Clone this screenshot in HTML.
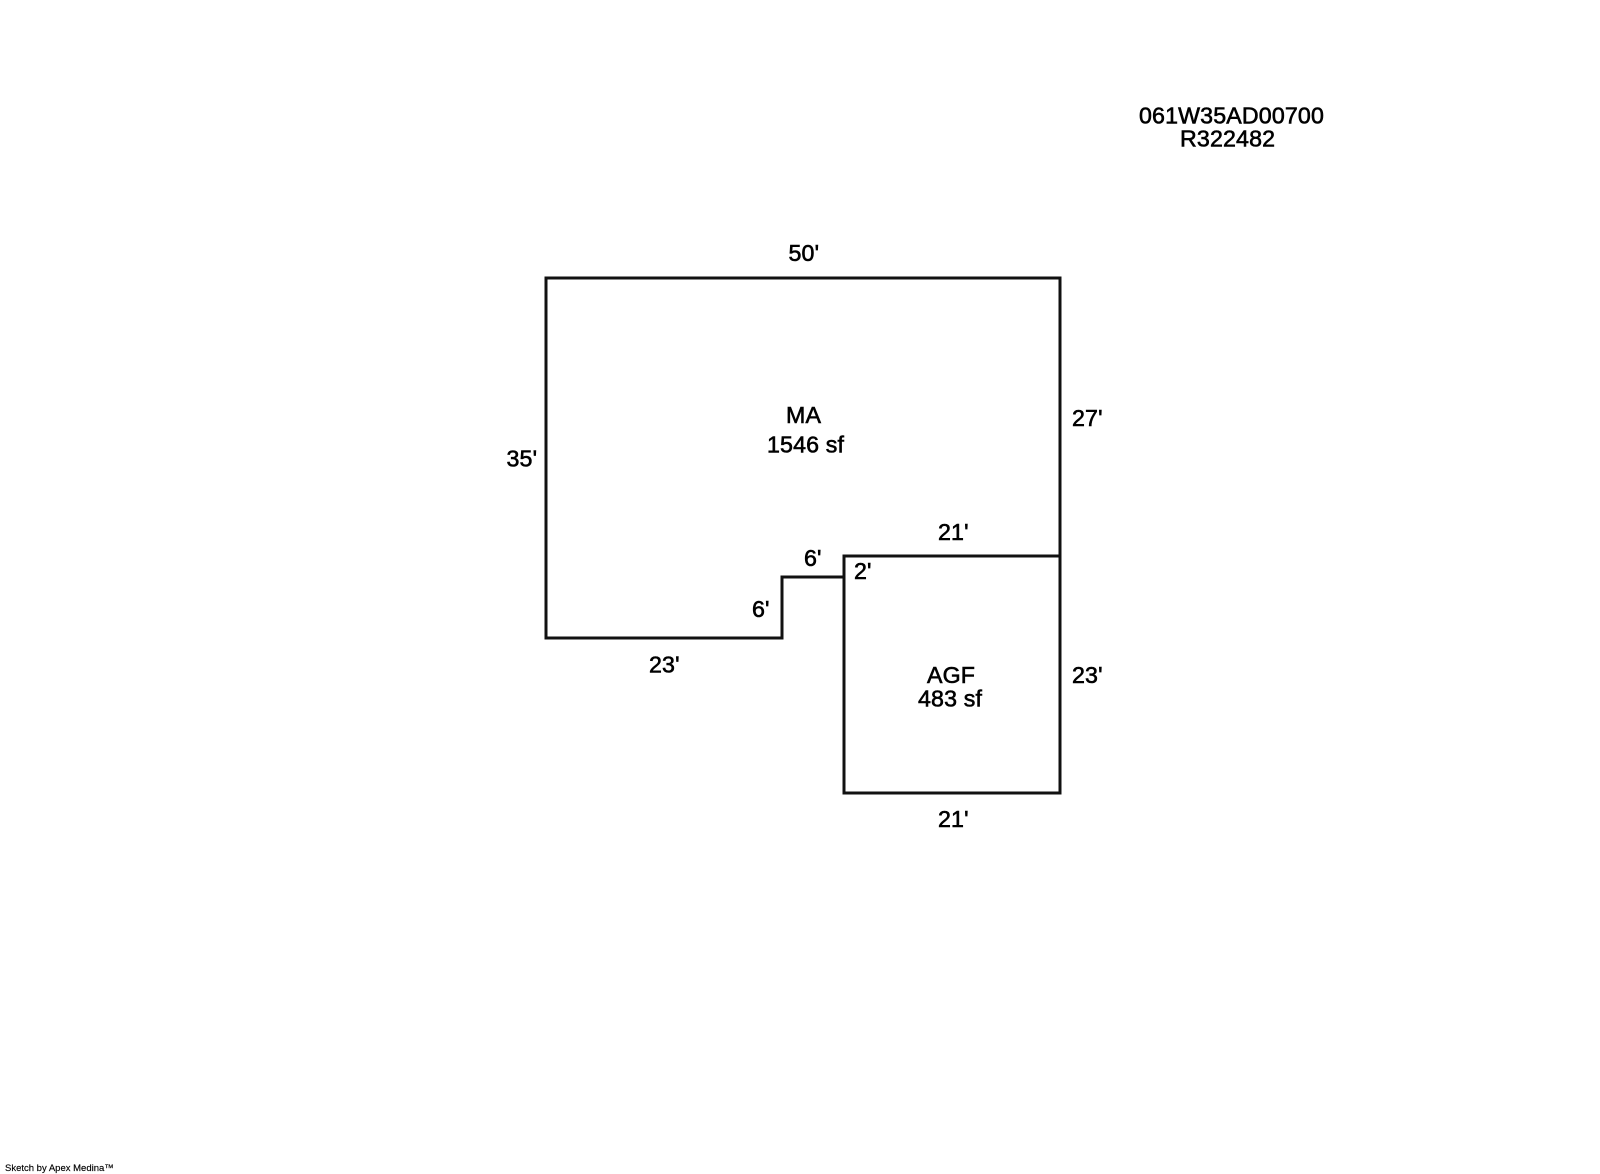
<!DOCTYPE html>
<html>
<head>
<meta charset="utf-8">
<style>
html,body{margin:0;padding:0;background:#fff;width:1600px;height:1174px;overflow:hidden}
svg{display:block}
text{font-family:"Liberation Sans",Arial,sans-serif;font-size:23.2px;letter-spacing:.15px;fill:#000;stroke:#000;stroke-width:.6px}
text.s{font-size:9.5px;letter-spacing:0;stroke-width:.15px}
.l{fill:none;stroke:#111;stroke-width:3;stroke-linecap:square;stroke-linejoin:miter}
</style>
</head>
<body>
<svg width="1600" height="1174" viewBox="0 0 1600 1174" xmlns="http://www.w3.org/2000/svg">
<rect width="1600" height="1174" fill="#fff"/>
<path class="l" d="M546 278V638H782V577H844"/>
<path class="l" d="M546 278H1060V556"/>
<path class="l" d="M844 556H1060V793H844Z"/>
<text x="1139" y="123.500">061W35AD00700</text>
<text x="1180" y="146.500">R322482</text>
<text x="788.500" y="261">50'</text>
<text x="786" y="423">MA</text>
<text x="767" y="452.500">1546 sf</text>
<text x="506.500" y="466.500">35'</text>
<text x="1072" y="426">27'</text>
<text x="938" y="540">21'</text>
<text x="804" y="566">6'</text>
<text x="854" y="579">2'</text>
<text x="752" y="617">6'</text>
<text x="649" y="672.500">23'</text>
<text x="1072" y="683">23'</text>
<text x="927" y="683">AGF</text>
<text x="918" y="706.500">483 sf</text>
<text x="938" y="827">21'</text>
<text class="s" x="5" y="1171">Sketch by Apex Medina™</text>
</svg>
</body>
</html>
